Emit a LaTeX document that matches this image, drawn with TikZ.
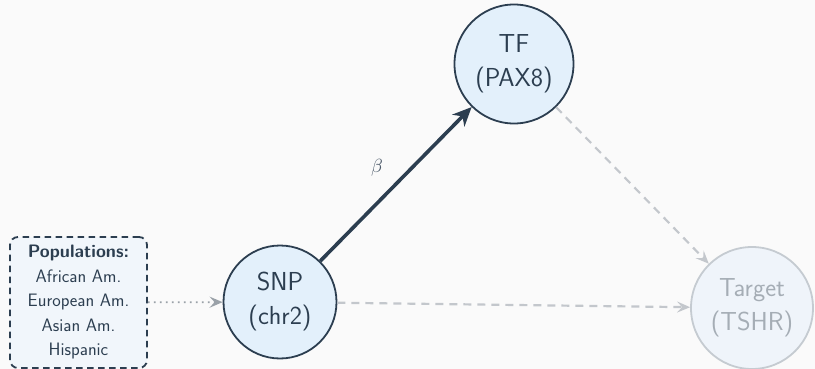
\documentclass[tikz,border=0pt]{standalone}
\usepackage{fontspec}
\usetikzlibrary{arrows.meta}
\definecolor{bgcol}{HTML}{FAFAFA}
\definecolor{ink}{HTML}{2C3E50}
\definecolor{nodefill}{HTML}{E3F0FB}
\definecolor{popfill}{HTML}{F1F6FB}
\definecolor{tgtfill}{HTML}{EFF4FA}
\definecolor{tgtline}{HTML}{C5CBD1}
\definecolor{tgttext}{HTML}{A5ADB5}
\definecolor{weakline}{HTML}{C3C7CC}
\definecolor{dotline}{HTML}{9AA1A8}
\definecolor{betacol}{HTML}{4A5868}
\tikzset{
  var/.style={circle, draw=ink, line width=1.8pt, fill=nodefill, text=ink,
    align=center, inner sep=0pt,
    font=\sffamily\fontsize{26}{34}\selectfont},
  tgtnode/.style={var, draw=tgtline, fill=tgtfill, text=tgttext},
  popbox/.style={draw=ink, line width=1.8pt, dash pattern=on 6.5pt off 4.5pt,
    rounded corners=8pt, fill=popfill, text=ink, align=center,
    minimum width=137pt, minimum height=131pt, inner sep=0pt,
    font=\sffamily\fontsize{18}{24.5}\selectfont},
  effect/.style={draw=ink, line width=3.6pt,
    -{Stealth[length=19pt, width=17pt, inset=6pt]}},
  weak/.style={draw=weakline, line width=2.2pt, dash pattern=on 8pt off 6pt,
    -{Stealth[length=13pt, width=11pt, inset=5pt]}},
  feed/.style={draw=dotline, line width=1.8pt, dash pattern=on 1.8pt off 4.2pt,
    -{Stealth[length=13pt, width=11pt, inset=5pt]}}
}
\begin{document}
\begin{tikzpicture}[x=1pt, y=-1pt]
  \fill[bgcol] (0,0) rectangle (815,369);
  \useasboundingbox (0,0) rectangle (815,369);

  % variables
  \node[var, minimum size=113pt] (snp) at (280,302) {SNP\\(chr2)};
  \node[var, minimum size=119pt] (tf) at (514,64) {TF\\(PAX8)};
  \node[tgtnode, minimum size=122pt] (tgt) at (752,308) {Target\\(TSHR)};

  % population panel
  \node[popbox] (pop) at (78.5,302.5)
    {\textbf{Populations:}\\African Am.\\European Am.\\Asian Am.\\Hispanic};

  % connectors
  \draw[feed] (pop) -- (snp);
  \draw[weak] (snp) -- (tgt);
  \draw[weak] (tf) -- (tgt);
  \draw[effect] (snp) -- (tf)
    node[pos=0.5, xshift=-19pt, yshift=16pt, text=betacol]
      (beta) {\scalebox{1.9}{$\beta$}};
\end{tikzpicture}
\end{document}
